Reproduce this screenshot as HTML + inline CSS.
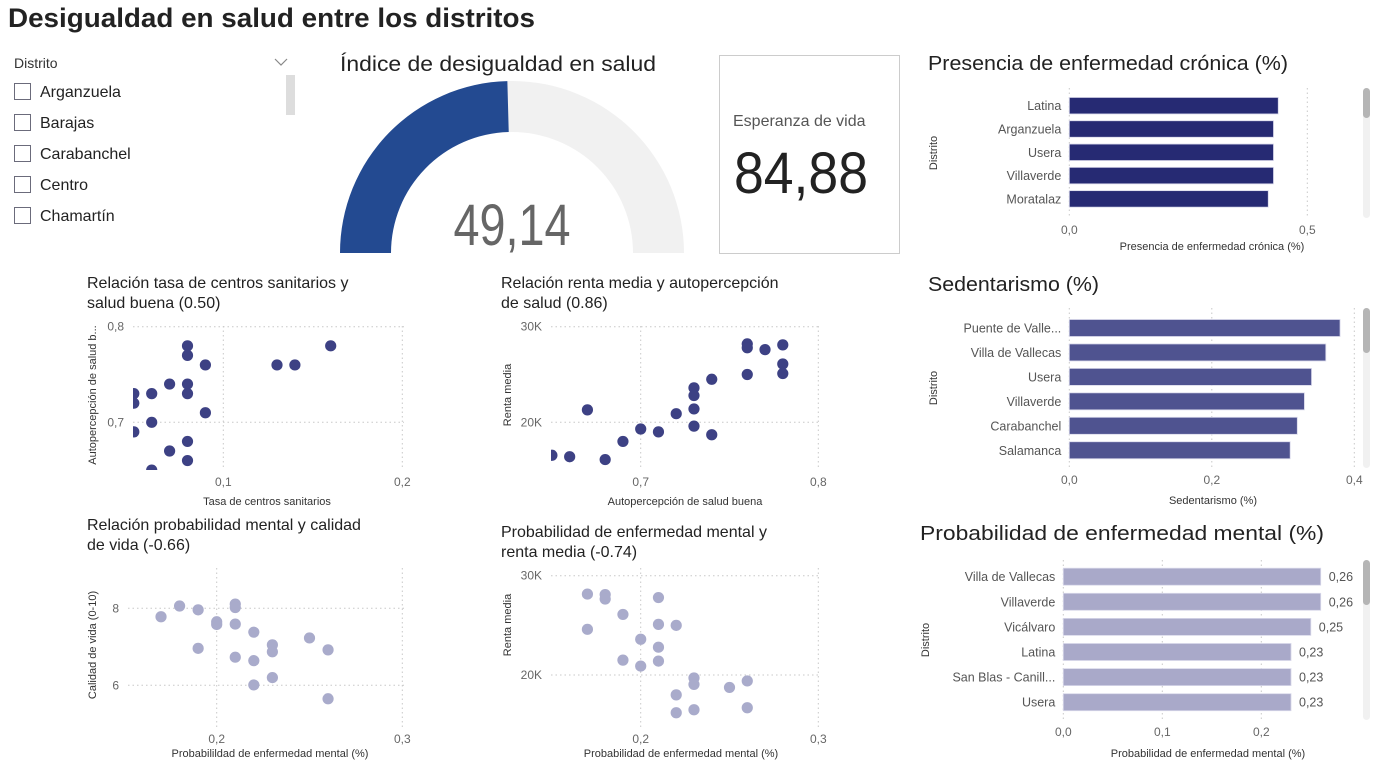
<!DOCTYPE html>
<html><head><meta charset="utf-8">
<style>
html,body{margin:0;padding:0;background:#fff;}
svg{display:block;font-family:"Liberation Sans",sans-serif;}
.tick{font-size:12px;fill:#666;}
.atitle{font-size:11px;fill:#333;}
.ptitle{font-size:20px;fill:#222;}
.stitle{font-size:16px;fill:#222;}
.cat{font-size:12.5px;fill:#555;}
.grid{stroke:#c8c8c8;stroke-dasharray:1.5 3;stroke-width:1;}
</style></head>
<body>
<svg id="root" width="1374" height="763" viewBox="0 0 1374 763">
<defs>
<clipPath id="c1"><rect x="133" y="318" width="275" height="152"/></clipPath>
<clipPath id="c2"><rect x="551" y="318" width="275" height="152"/></clipPath>
<clipPath id="c3"><rect x="128" y="565" width="280" height="165"/></clipPath>
<clipPath id="c4"><rect x="551" y="565" width="275" height="165"/></clipPath>
</defs>
<text x="8" y="27" font-size="27" font-weight="bold" fill="#222" textLength="527" lengthAdjust="spacingAndGlyphs">Desigualdad en salud entre los distritos</text>

<g>
<text x="14" y="68" font-size="14" fill="#333">Distrito</text>
<path d="M275 59 L281 65 L287 59" fill="none" stroke="#888" stroke-width="1.2"/>
<rect x="286" y="75" width="9" height="40" fill="#ddd"/>
<g id="slicerItems"></g>
</g>

<g>
<text x="340" y="71" font-size="21" fill="#222" textLength="316" lengthAdjust="spacingAndGlyphs">Índice de desigualdad en salud</text>
<path id="gaugeBg" fill="#f1f1f1"/>
<path id="gaugeFg" fill="#234a91"/>
<text id="gaugeVal" x="512" y="245" font-size="58" fill="#666" text-anchor="middle" textLength="117" lengthAdjust="spacingAndGlyphs">49,14</text>
</g>

<g>
<rect x="719.5" y="55.5" width="180" height="198" fill="#fff" stroke="#ccc"/>
<text x="733" y="126" font-size="16" fill="#555">Esperanza de vida</text>
<text x="734" y="193" font-size="58" fill="#222" textLength="134" lengthAdjust="spacingAndGlyphs">84,88</text>
</g>

<g id="scat1">
<text x="87" y="288" class="stitle">Relación tasa de centros sanitarios y</text>
<text x="87" y="308" class="stitle">salud buena (0.50)</text>
</g>
<g id="scat2">
<text x="501" y="288" class="stitle">Relación renta media y autopercepción</text>
<text x="501" y="308" class="stitle">de salud (0.86)</text>
</g>
<g id="scat3">
<text x="87" y="530" class="stitle">Relación probabilidad mental y calidad</text>
<text x="87" y="550" class="stitle">de vida (-0.66)</text>
</g>
<g id="scat4">
<text x="501" y="537" class="stitle">Probabilidad de enfermedad mental y</text>
<text x="501" y="557" class="stitle">renta media (-0.74)</text>
</g>

<g id="bar1">
<text x="928" y="70" class="ptitle" textLength="360" lengthAdjust="spacingAndGlyphs">Presencia de enfermedad crónica (%)</text>
</g>
<g id="bar2">
<text x="928" y="291" class="ptitle" textLength="171" lengthAdjust="spacingAndGlyphs">Sedentarismo (%)</text>
</g>
<g id="bar3">
<text x="920" y="540" class="ptitle" textLength="404" lengthAdjust="spacingAndGlyphs">Probabilidad de enfermedad mental (%)</text>
</g>
</svg>
<script>
// ---- data ----
const slicerItems = ["Arganzuela","Barajas","Carabanchel","Centro","Chamartín"];
const gaugeValue = 49.14, gaugeMax = 100;

const s1x = [0.08,0.08,0.09,0.13,0.14,0.16,0.07,0.08,0.05,0.06,0.08,0.05,0.09,0.06,0.05,0.08,0.07,0.08,0.06];
const s1y = [0.78,0.77,0.76,0.76,0.76,0.78,0.74,0.74,0.73,0.73,0.73,0.72,0.71,0.70,0.69,0.68,0.67,0.66,0.65];
const s1xTicks = [0.1,0.2], s1xTickLabels = ["0,1","0,2"];
const s1yTicks = [0.8,0.7], s1yTickLabels = ["0,8","0,7"];

const s2x = [0.65,0.66,0.67,0.68,0.69,0.70,0.71,0.72,0.73,0.73,0.73,0.73,0.74,0.74,0.76,0.76,0.76,0.77,0.78,0.78,0.78];
const s2y = [16550,16400,21300,16100,18000,19300,19000,20900,23600,22800,21400,19600,24500,18700,28200,27800,25000,27600,28100,26100,25100];
const s2xTicks = [0.7,0.8], s2xTickLabels = ["0,7","0,8"];
const s2yTicks = [30000,20000], s2yTickLabels = ["30K","20K"];

const s3x = [0.17,0.18,0.19,0.19,0.20,0.20,0.21,0.21,0.21,0.21,0.22,0.22,0.22,0.23,0.23,0.23,0.25,0.26,0.26];
const s3y = [7.78,8.06,7.96,6.96,7.65,7.58,8.11,8.02,7.59,6.73,7.38,6.64,6.01,7.05,6.87,6.2,7.23,6.92,5.65];
const s3xTicks = [0.2,0.3], s3xTickLabels = ["0,2","0,3"];
const s3yTicks = [8,6], s3yTickLabels = ["8","6"];

const s4x = [0.17,0.17,0.18,0.18,0.19,0.19,0.20,0.20,0.21,0.21,0.21,0.21,0.22,0.22,0.22,0.23,0.23,0.23,0.25,0.26,0.26];
const s4y = [28150,24600,28100,27650,26100,21500,23600,20900,27800,25100,22800,21400,25000,18000,16200,19700,19050,16500,18750,19400,16700];
const s4xTicks = [0.2,0.3], s4xTickLabels = ["0,2","0,3"];
const s4yTicks = [30000,20000], s4yTickLabels = ["30K","20K"];

const b1cats = ["Latina","Arganzuela","Usera","Villaverde","Moratalaz"];
const b1vals = [0.439,0.429,0.429,0.429,0.418];
const b1ticks = [0,0.5], b1tickLabels = ["0,0","0,5"];

const b2cats = ["Puente de Valle...","Villa de Vallecas","Usera","Villaverde","Carabanchel","Salamanca"];
const b2vals = [0.38,0.36,0.34,0.33,0.32,0.31];
const b2ticks = [0,0.2,0.4], b2tickLabels = ["0,0","0,2","0,4"];

const b3cats = ["Villa de Vallecas","Villaverde","Vicálvaro","Latina","San Blas - Canill...","Usera"];
const b3vals = [0.26,0.26,0.25,0.23,0.23,0.23];
const b3labels = ["0,26","0,26","0,25","0,23","0,23","0,23"];
const b3ticks = [0,0.1,0.2], b3tickLabels = ["0,0","0,1","0,2"];

// ---- helpers ----
const NS = "http://www.w3.org/2000/svg";
function mk(tag, attrs, parent, txt){
  const e = document.createElementNS(NS, tag);
  for (const k in attrs) e.setAttribute(k, attrs[k]);
  if (txt !== undefined) e.textContent = txt;
  parent.appendChild(e);
  return e;
}
function lin(d0,d1,r0,r1){ return v => r0 + (v-d0)/(d1-d0)*(r1-r0); }

// slicer
const sg = document.getElementById('slicerItems');
slicerItems.forEach((name,i)=>{
  const y = 92 + i*31;
  const g = mk('g',{},sg);
  
  
  const r = mk('rect',{x:14.5,y:y-8.5,width:16,height:16,fill:'#fff',stroke:'#6b6b7b'},g);
  
  
  const t = mk('text',{x:40,y:y+5,'font-size':16,fill:'#222'},g,name);
  
  
});

// gauge
(function(){
  const cx=512, cy=253, R=172, r=121;
  function arc(f0,f1){
    const a0 = Math.PI*(1-f0), a1 = Math.PI*(1-f1);
    const p = (a,rad)=>[cx+rad*Math.cos(a), cy-rad*Math.sin(a)];
    const [x0,y0]=p(a0,R),[x1,y1]=p(a1,R),[x2,y2]=p(a1,r),[x3,y3]=p(a0,r);
    const lg = (f1-f0)>0.5?1:0;
    return `M${x0} ${y0} A${R} ${R} 0 ${lg} 1 ${x1} ${y1} L${x2} ${y2} A${r} ${r} 0 ${lg} 0 ${x3} ${y3} Z`;
  }
  document.getElementById('gaugeBg').setAttribute('d',arc(0,1));
  document.getElementById('gaugeFg').setAttribute('d',arc(0,gaugeValue/gaugeMax));
})();

// scatter
function scatter(cfg){
  const g = document.getElementById(cfg.id);
  const X = lin(cfg.xd[0],cfg.xd[1],cfg.xr[0],cfg.xr[1]);
  const Y = lin(cfg.yd[0],cfg.yd[1],cfg.yr[0],cfg.yr[1]);
  cfg.xt.forEach((v,i)=>{
    const l = mk('line',{x1:X(v),x2:X(v),y1:cfg.top,y2:cfg.bottom,class:'grid'},g);
    
    
    const t = mk('text',{x:X(v),y:cfg.bottom+16,class:'tick','text-anchor':'middle'},g,cfg.xl[i]);
    
    
  });
  cfg.yt.forEach((v,i)=>{
    const l = mk('line',{x1:cfg.left,x2:cfg.right,y1:Y(v),y2:Y(v),class:'grid'},g);
    
    
    const t = mk('text',{x:cfg.left-9,y:Y(v)+4,class:'tick','text-anchor':'end'},g,cfg.yl[i]);
    
    
  });
  const pg = mk('g',{'clip-path':`url(#${cfg.clip})`},g);
  
  
  cfg.xs.forEach((xv,i)=>{
    const c = mk('circle',{cx:X(xv),cy:Y(cfg.ys[i]),r:5.6,fill:cfg.color},pg);
    
    
  });
  const xt = mk('text',{x:cfg.xtitle[1],y:cfg.xtitle[2],class:'atitle','text-anchor':'middle'},g,cfg.xtitle[0]);
  
  
  const yt = mk('text',{x:0,y:0,class:'atitle','text-anchor':'middle',transform:`translate(${cfg.ytitle[1]},${cfg.ytitle[2]}) rotate(-90)`},g,cfg.ytitle[0]);
  
  
}
scatter({id:'scat1',clip:'c1',xs:s1x,ys:s1y,xd:[0.1,0.2],xr:[223.3,402.3],yd:[0.8,0.7],yr:[326.7,422.3],left:133,
  xt:s1xTicks,xl:s1xTickLabels,yt:s1yTicks,yl:s1yTickLabels,top:326,bottom:470,right:404,color:'#3d4184',
  xtitle:['Tasa de centros sanitarios',267,505],ytitle:['Autopercepción de salud b...',96,395]});
scatter({id:'scat2',clip:'c2',xs:s2x,ys:s2y,xd:[0.7,0.8],xr:[640.7,818.3],yd:[30000,20000],yr:[326.7,422.3],left:551,
  xt:s2xTicks,xl:s2xTickLabels,yt:s2yTicks,yl:s2yTickLabels,top:326,bottom:470,right:820,color:'#3d4184',
  xtitle:['Autopercepción de salud buena',685,505],ytitle:['Renta media',511,395]});
scatter({id:'scat3',clip:'c3',xs:s3x,ys:s3y,xd:[0.2,0.3],xr:[216.7,402.3],yd:[8,6],yr:[608.3,685.3],left:128,
  xt:s3xTicks,xl:s3xTickLabels,yt:s3yTicks,yl:s3yTickLabels,top:568,bottom:727,right:404,color:'#a9abcb',
  xtitle:['Probabilildad de enfermedad mental (%)',270,757],ytitle:['Calidad de vida (0-10)',96,645]});
scatter({id:'scat4',clip:'c4',xs:s4x,ys:s4y,xd:[0.2,0.3],xr:[640.7,818.3],yd:[30000,20000],yr:[575.7,675],left:551,
  xt:s4xTicks,xl:s4xTickLabels,yt:s4yTicks,yl:s4yTickLabels,top:568,bottom:727,right:820,color:'#a9abcb',
  xtitle:['Probabilidad de enfermedad mental (%)',681,757],ytitle:['Renta media',511,625]});

// bars
function bars(cfg){
  const g = document.getElementById(cfg.id);
  const X = lin(cfg.xd[0],cfg.xd[1],cfg.xr[0],cfg.xr[1]);
  cfg.ticks.forEach((v,i)=>{
    const l = mk('line',{x1:X(v),x2:X(v),y1:cfg.top,y2:cfg.bottom,class:'grid'},g);
    
    
    const t = mk('text',{x:X(v),y:cfg.bottom+16,class:'tick','text-anchor':'middle'},g,cfg.tickLabels[i]);
    
    
  });
  cfg.cats.forEach((c,i)=>{
    const cy = cfg.y0 + i*cfg.step;
    const b = mk('rect',{x:X(0),y:cy-cfg.h/2,width:X(cfg.vals[i])-X(0),height:cfg.h,fill:cfg.color,stroke:'#d8d8ea','stroke-width':0.8},g);
    
    
    const t = mk('text',{x:X(0)-8,y:cy+4.5,class:'cat','text-anchor':'end'},g,c);
    
    
    if (cfg.labels){
      const v = mk('text',{x:X(cfg.vals[i])+8,y:cy+4.5,class:'cat','text-anchor':'start'},g,cfg.labels[i]);
      
      
    }
  });
  const xt = mk('text',{x:cfg.xtitle[1],y:cfg.xtitle[2],class:'atitle','text-anchor':'middle'},g,cfg.xtitle[0]);
  
  
  const yt = mk('text',{x:0,y:0,class:'atitle','text-anchor':'middle',transform:`translate(${cfg.ytitleX},${(cfg.top+cfg.bottom)/2}) rotate(-90)`},g,'Distrito');
  
  
  const sb = mk('rect',{x:1363,y:cfg.top,width:7,height:cfg.bottom-cfg.top,rx:3.5,fill:'#f1f1f1'},g);
  
  
  const th = mk('rect',{x:1363,y:cfg.top,width:7,height:cfg.thumb,rx:3.5,fill:'#b5b5b5'},g);
  
  
}
bars({id:'bar1',cats:b1cats,vals:b1vals,ticks:b1ticks,tickLabels:b1tickLabels,xd:[0,0.5],xr:[1069.3,1307.3],
  y0:105.7,step:23.3,h:16.5,top:88,bottom:218,color:'#262a73',xtitle:['Presencia de enfermedad crónica (%)',1212,250],ytitleX:937,thumb:30});
bars({id:'bar2',cats:b2cats,vals:b2vals,ticks:b2ticks,tickLabels:b2tickLabels,xd:[0,0.4],xr:[1069.3,1354.3],
  y0:328,step:24.45,h:17,top:308,bottom:468,color:'#4f5390',xtitle:['Sedentarismo (%)',1213,504],ytitleX:937,thumb:45});
bars({id:'bar3',cats:b3cats,vals:b3vals,labels:b3labels,ticks:b3ticks,tickLabels:b3tickLabels,xd:[0,0.1],xr:[1063.3,1162.3],
  y0:576.7,step:25.1,h:17,top:560,bottom:720,color:'#a9a9c9',xtitle:['Probabilidad de enfermedad mental (%)',1208,757],ytitleX:929,thumb:45});
</script>
</body></html>
